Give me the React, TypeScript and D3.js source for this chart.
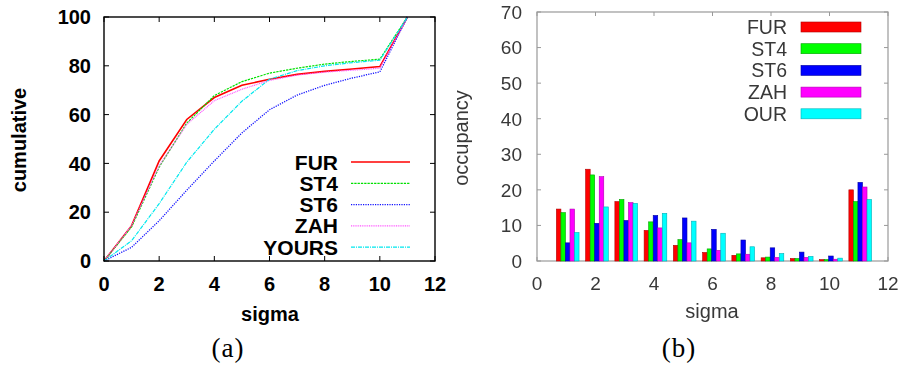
import * as d3 from 'd3';

// sigma positions
const SIGMA_CUM = [0, 1, 2, 3, 4, 5, 6, 7, 8, 9, 10, 11];
const SIGMA_BAR = [1, 2, 3, 4, 5, 6, 7, 8, 9, 10, 11];

// (a) cumulative curves
const CUM_FUR = [0, 14.5, 41, 58, 67, 72, 74.5, 76.5, 77.7, 78.7, 79.7, 100];
const CUM_ST4 = [0, 14, 38.5, 56.5, 67.8, 73.5, 77, 79, 80.7, 81.8, 82.7, 100];
const CUM_ST6 = [0, 5.6, 16.5, 29, 41, 52.5, 62, 68, 72, 75, 77.5, 100];
const CUM_ZAH = [0, 14.5, 39, 56, 65.7, 70.4, 74, 76.2, 77.4, 78.2, 79, 100];
const CUM_YOURS = [0, 8.3, 23.5, 40.5, 54, 65.5, 74.5, 78, 80, 81.3, 82.3, 100];

// (b) occupancy histogram
const OCC_FUR = [14.6, 25.8, 16.7, 8.6, 4.4, 2.4, 1.6, 0.9, 0.7, 0.4, 20];
const OCC_ST4 = [13.6, 24.2, 17.3, 11, 6, 3.4, 2, 1.1, 0.7, 0.4, 16.7];
const OCC_ST6 = [5.1, 10.6, 11.4, 12.8, 12.1, 8.9, 5.9, 3.7, 2.5, 1.4, 22.1];
const OCC_ZAH = [14.6, 23.7, 16.4, 9.3, 5.1, 3, 1.9, 1, 1, 0.5, 20.8];
const OCC_OUR = [8, 15.2, 16.2, 13.4, 11.2, 7.8, 4, 2.1, 1.3, 0.8, 17.3];

const X_TICKS = [0, 2, 4, 6, 8, 10, 12];
const Y_TICKS_A = [0, 20, 40, 60, 80, 100];
const Y_TICKS_B = [0, 10, 20, 30, 40, 50, 60, 70];

const LINES = [
  { label: 'FUR', values: CUM_FUR, color: '#ff0000', dash: '', width: 1.6 },
  { label: 'ST4', values: CUM_ST4, color: '#00e000', dash: '2.3,1', width: 1.2 },
  { label: 'ST6', values: CUM_ST6, color: '#1010ff', dash: '1.2,1.2', width: 1.3 },
  { label: 'ZAH', values: CUM_ZAH, color: '#ff55ff', dash: '1,0.8', width: 1.2 },
  { label: 'YOURS', values: CUM_YOURS, color: '#00e8ee', dash: '4,1,1,1', width: 1.2 },
];

const BARS = [
  { label: 'FUR', values: OCC_FUR, color: '#ff0000', edge: '#b00000' },
  { label: 'ST4', values: OCC_ST4, color: '#00ff00', edge: '#00a000' },
  { label: 'ST6', values: OCC_ST6, color: '#0000ff', edge: '#0000a0' },
  { label: 'ZAH', values: OCC_ZAH, color: '#ff00ff', edge: '#b000b0' },
  { label: 'OUR', values: OCC_OUR, color: '#00ffff', edge: '#00b0b8' },
];

const SANS = '"Liberation Sans", Arial, sans-serif';
const SERIF = '"Liberation Serif", "DejaVu Serif", serif';

function CumulativePanel() {
  const x = d3.scaleLinear().domain([0, 12]).range([104, 435]);
  const y = d3.scaleLinear().domain([0, 100]).range([261, 17]);
  const line = d3
    .line<number>()
    .x((_, i) => x(SIGMA_CUM[i]))
    .y((d) => y(d));
  const tick = 5;

  return (
    <g>
      {LINES.map((s) => (
        <path
          key={s.label}
          d={line(s.values) || ''}
          fill="none"
          stroke={s.color}
          strokeWidth={s.width}
          strokeDasharray={s.dash || undefined}
        />
      ))}
      <rect x={x(0)} y={y(100)} width={x(12) - x(0)} height={y(0) - y(100)} fill="none" stroke="#000" strokeWidth={1.4} />
      {X_TICKS.map((t) => (
        <g key={'x' + t}>
          <line x1={x(t)} x2={x(t)} y1={y(0)} y2={y(0) - tick} stroke="#000" />
          <line x1={x(t)} x2={x(t)} y1={y(100)} y2={y(100) + tick} stroke="#000" />
          <text x={x(t)} y={291} textAnchor="middle" fontFamily={SANS} fontWeight="bold" fontSize={20}>
            {t}
          </text>
        </g>
      ))}
      {Y_TICKS_A.map((t) => (
        <g key={'y' + t}>
          <line x1={x(0)} x2={x(0) + tick} y1={y(t)} y2={y(t)} stroke="#000" />
          <line x1={x(12)} x2={x(12) - tick} y1={y(t)} y2={y(t)} stroke="#000" />
          <text x={91} y={y(t)} dy="0.36em" textAnchor="end" fontFamily={SANS} fontWeight="bold" fontSize={20}>
            {t}
          </text>
        </g>
      ))}
      <text x={270} y={321} textAnchor="middle" fontFamily={SANS} fontWeight="bold" fontSize={20}>
        sigma
      </text>
      <text
        transform="translate(26,140) rotate(-90)"
        textAnchor="middle"
        fontFamily={SANS}
        fontWeight="bold"
        fontSize={20}
      >
        cumulative
      </text>
      {LINES.map((s, i) => {
        const ly = 162 + i * 21.3;
        return (
          <g key={'lg' + s.label}>
            <text x={338} y={ly} dy="0.36em" textAnchor="end" fontFamily={SANS} fontWeight="bold" fontSize={21}>
              {s.label}
            </text>
            <line
              x1={351}
              x2={410}
              y1={ly}
              y2={ly}
              stroke={s.color}
              strokeWidth={s.width}
              strokeDasharray={s.dash || undefined}
            />
          </g>
        );
      })}
      <text x={228} y={357} textAnchor="middle" fontFamily={SERIF} fontSize={27} letterSpacing={1}>
        (a)
      </text>
    </g>
  );
}

function OccupancyPanel() {
  const x = d3.scaleLinear().domain([0, 12]).range([537, 888]);
  const y = d3.scaleLinear().domain([0, 70]).range([261, 12]);
  const barW = 0.155;
  const bw = x(barW) - x(0);
  const tick = 4;
  const axisColor = '#999';
  const textColor = '#383838';

  return (
    <g filter="url(#soft)">
      <rect x={x(0)} y={y(70)} width={x(12) - x(0)} height={y(0) - y(70)} fill="none" stroke={axisColor} strokeWidth={1.2} />
      {X_TICKS.map((t) => (
        <g key={'x' + t}>
          <line x1={x(t)} x2={x(t)} y1={y(0)} y2={y(0) - tick} stroke={axisColor} />
          <line x1={x(t)} x2={x(t)} y1={y(70)} y2={y(70) + tick} stroke={axisColor} />
          <text x={x(t)} y={290} textAnchor="middle" fontFamily={SANS} fontSize={19} fill={textColor}>
            {t}
          </text>
        </g>
      ))}
      {Y_TICKS_B.map((t) => (
        <g key={'y' + t}>
          <line x1={x(0)} x2={x(0) + tick} y1={y(t)} y2={y(t)} stroke={axisColor} />
          <line x1={x(12)} x2={x(12) - tick} y1={y(t)} y2={y(t)} stroke={axisColor} />
          <text x={522} y={y(t)} dy="0.36em" textAnchor="end" fontFamily={SANS} fontSize={19} fill={textColor}>
            {t}
          </text>
        </g>
      ))}
      {BARS.map((s, i) =>
        s.values.map((v, j) => {
          const cx = x(SIGMA_BAR[j] + 0.05 + (i - 2) * barW);
          return (
            <rect
              key={s.label + j}
              x={cx - bw / 2}
              y={y(v)}
              width={bw}
              height={y(0) - y(v)}
              fill={s.color}
              stroke={s.edge}
              strokeWidth={0.6}
            />
          );
        })
      )}
      {BARS.map((s, i) => {
        const ly = 27 + i * 21.7;
        return (
          <g key={'lg' + s.label}>
            <text x={787} y={ly} dy="0.36em" textAnchor="end" fontFamily={SANS} fontSize={19.5} fill={textColor}>
              {s.label}
            </text>
            <rect x={801} y={ly - 5} width={60} height={10} fill={s.color} stroke={s.edge} strokeWidth={0.6} />
          </g>
        );
      })}
      <text x={712} y={318} textAnchor="middle" fontFamily={SANS} fontSize={20} fill={textColor}>
        sigma
      </text>
      <text
        transform="translate(468,138) rotate(-90)"
        textAnchor="middle"
        fontFamily={SANS}
        fontSize={20}
        fill={textColor}
      >
        occupancy
      </text>
    </g>
  );
}

export default function App() {
  return (
    <svg
      width={904}
      height={369}
      style={{ position: 'fixed', left: 0, top: 0, background: '#fff' }}
    >
      <defs>
        <filter id="soft" x="-5%" y="-5%" width="110%" height="110%">
          <feGaussianBlur stdDeviation={0.45} />
        </filter>
      </defs>
      <rect width={904} height={369} fill="#fff" />
      <CumulativePanel />
      <OccupancyPanel />
      <text x={679} y={357} textAnchor="middle" fontFamily={SERIF} fontSize={27} letterSpacing={1}>
        (b)
      </text>
    </svg>
  );
}
